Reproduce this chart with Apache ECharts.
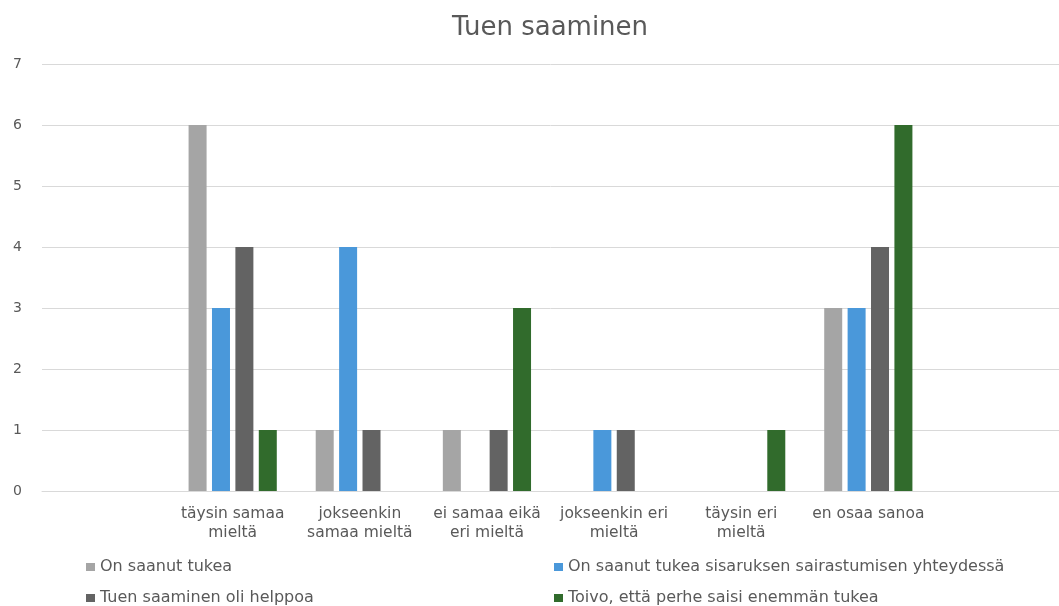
<!DOCTYPE html>
<html><head><meta charset="utf-8">
<script src="https://cdn.jsdelivr.net/npm/echarts@6/dist/echarts.min.js"></script>
<style>html,body{margin:0;padding:0;background:#fff}#c{width:1059px;height:606px}</style>
</head><body><div id="c"></div>
<script>
const categories = ['täysin samaa\nmieltä', 'jokseenkin\nsamaa mieltä', 'ei samaa eikä\neri mieltä', 'jokseenkin eri\nmieltä', 'täysin eri\nmieltä', 'en osaa sanoa'];
const seriesNames = ['On saanut tukea', 'On saanut tukea sisaruksen sairastumisen yhteydessä', 'Tuen saaminen oli helppoa', 'Toivo, että perhe saisi enemmän tukea'];
const onSaanut = [6, 1, 1, 0, 0, 3];
const sisaruksen = [3, 4, 0, 1, 0, 3];
const helppoa = [4, 1, 1, 1, 0, 4];
const toivo = [1, 0, 3, 0, 1, 6];
const yTicks = [0, 1, 2, 3, 4, 5, 6, 7];
const colors = ['#a5a5a5', '#4a98da', '#636363', '#316b2c'];

const pad = a => [null].concat(a, [null]);
const cats = [''].concat(categories, ['']);
const values = [onSaanut, sisaruksen, helppoa, toivo];
const font = 'DejaVu Sans';
const legendPos = [[86, 559], [554, 559], [86, 590], [554, 590]];
const chart = echarts.init(document.getElementById('c'));
chart.setOption({
  animation: false,
  title: { text: 'Tuen saaminen', left: 447, top: 10, textStyle: { color: '#595959', fontSize: 26, fontWeight: 'normal', fontFamily: font } },
  legend: seriesNames.map((n, i) => ({
    left: legendPos[i][0], top: legendPos[i][1], padding: 0, itemWidth: 9, itemHeight: 8, icon: 'rect',
    data: [n], textStyle: { color: '#595959', fontSize: 16, fontFamily: font }
  })),
  grid: { left: 42, right: -13, top: 64, bottom: 115 },
  xAxis: {
    type: 'category', data: cats,
    axisLine: { show: true, lineStyle: { color: '#d9d9d9' } }, axisTick: { show: false },
    axisLabel: { interval: 0, color: '#595959', fontSize: 15.5, fontFamily: font, lineHeight: 19, margin: 13 }
  },
  yAxis: {
    type: 'value', min: yTicks[0], max: yTicks[yTicks.length - 1], interval: 1,
    axisLine: { show: false }, axisTick: { show: false },
    splitLine: { lineStyle: { color: '#d9d9d9', width: 1 } },
    axisLabel: { color: '#595959', fontSize: 14, fontFamily: font, margin: 20, padding: [0, 0, 6, 0] }
  },
  series: values.map((v, i) => ({
    name: seriesNames[i], type: 'bar', data: pad(v), barWidth: 18, barGap: '30%',
    itemStyle: { color: colors[i] }
  }))
});
</script></body></html>
